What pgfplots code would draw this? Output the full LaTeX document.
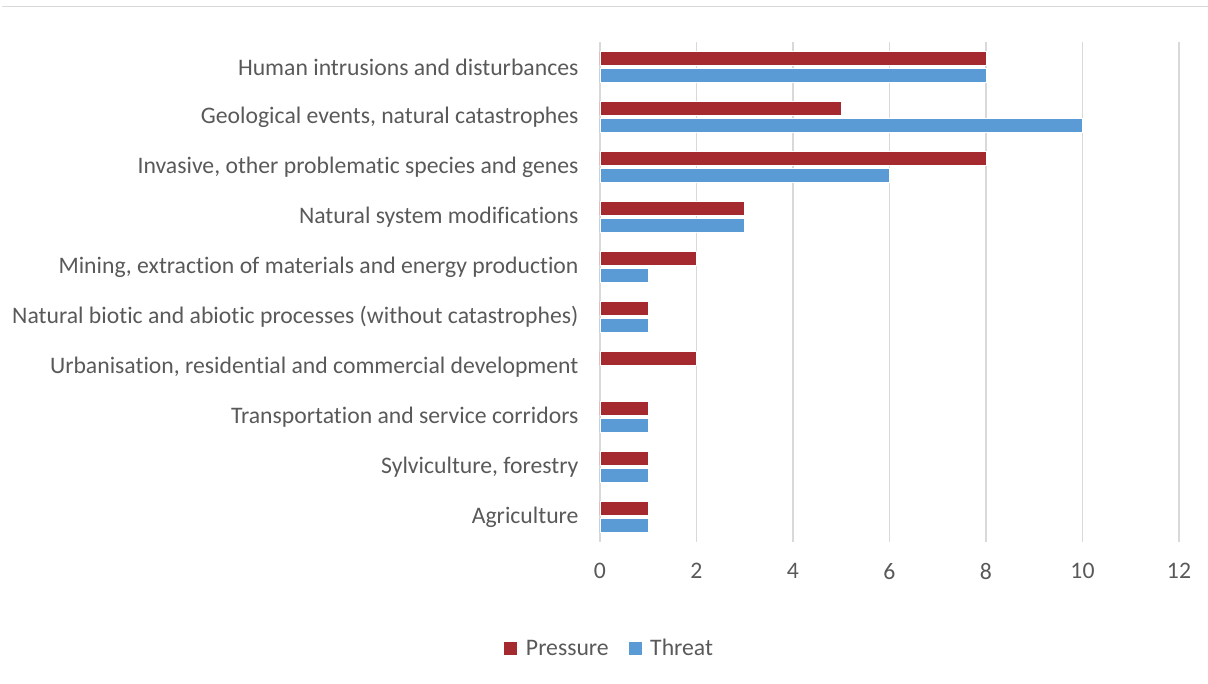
\documentclass[border=0pt]{standalone}
\usepackage{pgfplots}
\pgfplotsset{compat=1.18}
\usepackage{fontspec}
\setmainfont{Carlito}[Ligatures=CommonOff]
\definecolor{pressure}{HTML}{A52A2F}
\definecolor{threat}{HTML}{5B9BD5}
\definecolor{txt}{HTML}{595959}
\definecolor{gridc}{HTML}{D9D9D9}
\begin{document}
\begin{tikzpicture}[x=1pt,y=1pt]
\useasboundingbox (0,0) rectangle (1208,684);
\draw[gridc, line width=1pt] (2,677) -- (1208,677);
\begin{axis}[
  at={(600pt,142pt)}, anchor=south west,
  scale only axis, width=579pt, height=500pt,
  xmin=0, xmax=12, ymin=-0.5, ymax=9.5,
  xtick={0,2,...,12},
  ytick={0,...,9},
  yticklabels={Agriculture,{Sylviculture, forestry},Transportation and service corridors,Urbanisation{,} residential and commercial development,Natural biotic and abiotic processes (without catastrophes),{Mining, extraction of materials and energy production},Natural system modifications,{Invasive, other problematic species and genes},{Geological events, natural catastrophes},Human intrusions and disturbances},
  xmajorgrids, major grid style={gridc, line width=1.5pt},
  axis line style={draw=none},
  major tick length=0pt,
  tick label style={font=\fontsize{23.7}{28}\selectfont, text=txt},
  yticklabel style={xshift=-18pt},
  xticklabel style={yshift=-18pt},
  /pgf/number format/assume math mode=true,
  xbar, bar width=13.5pt,
  legend style={at={(0.016,-0.213)}, anchor=center, draw=none, fill=none,
    legend columns=2, font=\fontsize{23.7}{28}\selectfont, text=txt,
    /tikz/every even column/.append style={column sep=17pt}},
  legend image code/.code={\fill[#1] (0pt,-7pt) rectangle (14pt,7pt); \path (20pt,0pt);},
]
\addplot[fill=pressure, draw=white, line width=0.5pt, bar shift=8.5pt] coordinates {
  (1,0) (1,1) (1,2) (2,3) (1,4) (2,5) (3,6) (8,7) (5,8) (8,9)};
\addlegendentry{Pressure}
\addplot[fill=threat, draw=white, line width=0.5pt, bar shift=-8.5pt] coordinates {
  (1,0) (1,1) (1,2) (1,4) (1,5) (3,6) (6,7) (10,8) (8,9)};
\addlegendentry{Threat}
\end{axis}
\end{tikzpicture}
\end{document}
